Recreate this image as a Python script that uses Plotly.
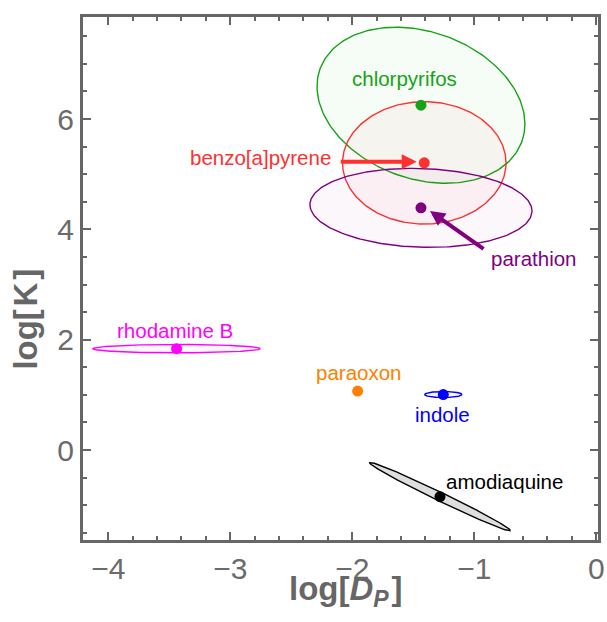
import numpy as np
import plotly.graph_objects as go

# ---- data ----
names = ["chlorpyrifos", "benzo[a]pyrene", "parathion", "rhodamine B",
         "paraoxon", "indole", "amodiaquine"]
log_dp = [-1.437, -1.41, -1.437, -3.44, -1.956, -1.254, -1.281]
log_k = [6.25, 5.205, 4.39, 1.837, 1.069, 1.006, -0.845]
# ellipse half-extents (data units) and correlation
err_x = [0.852, 0.670, 0.91, 0.686, 0.0, 0.153, 0.577]
err_y = [1.414, 1.109, 0.716, 0.076, 0.0, 0.054, 0.62]
corr = [-0.24, 0.0, -0.08, 0.0, 0.0, 0.0, -0.99]
colors = ["#16a316", "#ff3030", "#800080", "#ff00ff", "#ff8000", "#0000ff", "#000000"]
fills = ["rgba(0,170,0,0.035)", "rgba(255,0,0,0.03)", "rgba(128,0,128,0.03)",
         "rgba(255,0,255,0.03)", "rgba(255,128,0,0.04)", "rgba(0,0,255,0.04)",
         "rgba(0,0,0,0.13)"]
# label anchor points (data units)
label_x = [-1.568, -2.75, -0.511, -3.449, -1.951, -1.258, -0.752]
label_y = [6.743, 5.311, 3.48, 2.163, 1.401, 0.643, -0.575]
# arrows: (tail -> head) for benzo[a]pyrene and parathion
arrow_idx = [1, 2]
arrow_tail_x = [-2.107, -0.912]
arrow_tail_y = [5.225, 3.626]
arrow_head_x = [-1.472, -1.363]
arrow_head_y = [5.225, 4.332]

x_ticks = [-4, -3, -2, -1, 0]
x_tick_text = ["\u22124", "\u22123", "\u22122", "\u22121", "0"]
y_ticks = [0, 2, 4, 6]

FONT = "Liberation Sans, Arial"
fig = go.Figure()

t = np.linspace(0, 2 * np.pi, 241)
for i in range(len(names)):
    rho = corr[i]
    ex = log_dp[i] + err_x[i] * np.cos(t)
    ey = log_k[i] + err_y[i] * (rho * np.cos(t) + np.sqrt(1 - rho ** 2) * np.sin(t))
    fig.add_trace(go.Scatter(x=ex, y=ey, mode="lines", fill="toself",
                             fillcolor=fills[i],
                             line=dict(color=colors[i], width=1.4),
                             hoverinfo="skip", showlegend=False))

for i in range(len(names)):
    fig.add_trace(go.Scatter(x=[log_dp[i]], y=[log_k[i]], mode="markers",
                             marker=dict(color=colors[i], size=11),
                             showlegend=False, name=names[i]))

for i in range(len(names)):
    fig.add_annotation(x=label_x[i], y=label_y[i], text=names[i], showarrow=False,
                       xanchor="center", yanchor="middle",
                       font=dict(family=FONT, size=20.5, color=colors[i]))

for j, i in enumerate(arrow_idx):
    fig.add_annotation(x=arrow_head_x[j], y=arrow_head_y[j],
                       ax=arrow_tail_x[j], ay=arrow_tail_y[j],
                       axref="x", ayref="y", xref="x", yref="y",
                       text="", showarrow=True, arrowhead=2, arrowsize=0.75,
                       arrowwidth=4, arrowcolor=colors[i], standoff=0)

# axis titles
fig.add_annotation(xref="paper", yref="paper", x=0.509, y=-0.097,
                   text="<b>log[<i>D</i><sub><i>P</i></sub>\u200a]</b>", showarrow=False,
                   xanchor="center", yanchor="middle",
                   font=dict(family=FONT, size=33, color="#666666"))
fig.add_annotation(xref="paper", yref="paper", x=-0.112, y=0.422,
                   text="<b>log[\u200aK\u200a]</b>", showarrow=False, textangle=-90,
                   xanchor="center", yanchor="middle",
                   font=dict(family=FONT, size=33, color="#666666"))

axis_common = dict(showline=True, linecolor="#666666", linewidth=3, mirror="allticks",
                   ticks="inside", ticklen=8, tickwidth=2, tickcolor="#666666",
                   showgrid=False, zeroline=False, automargin=False,
                   tickfont=dict(family=FONT, size=30, color="#6b6b6b"))

fig.update_layout(
    width=607, height=622,
    margin=dict(l=83, r=9, t=17, b=82),
    paper_bgcolor="white", plot_bgcolor="white",
    xaxis=dict(range=[-4.207, 0.014], tickvals=x_ticks, ticktext=x_tick_text,
               minor=dict(dtick=0.2, tick0=0, ticks="inside", ticklen=4, tickwidth=1.5,
                          tickcolor="#666666", showgrid=False),
               **axis_common),
    yaxis=dict(range=[-1.631, 7.849], tickvals=y_ticks,
               minor=dict(dtick=0.5, tick0=0, ticks="inside", ticklen=4, tickwidth=1.5,
                          tickcolor="#666666", showgrid=False),
               **axis_common),
)

fig.write_html("out.html")
